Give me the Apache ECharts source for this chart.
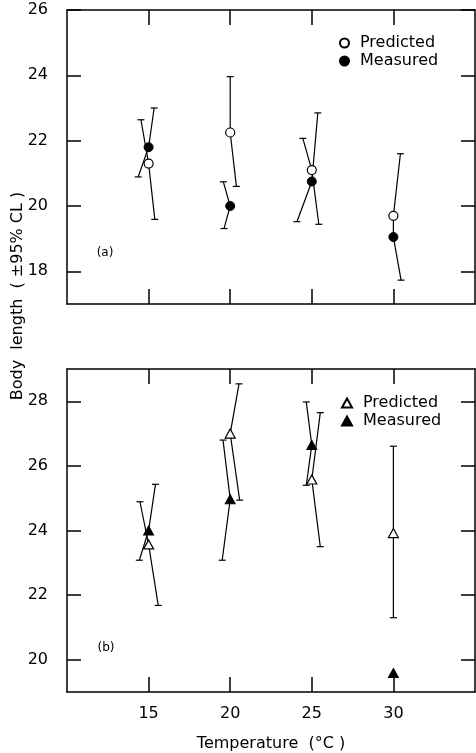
<!DOCTYPE html>
<html>
<head>
<meta charset="UTF-8">
<title>Body length vs temperature</title>
<script src="https://cdn.jsdelivr.net/npm/echarts@6/dist/echarts.min.js"></script>
<style>
html, body { margin: 0; padding: 0; background: #fff; }
#chart { width: 476px; height: 753px; }
</style>
</head>
<body>
<div id="chart"></div>
<script>
// temperatures (°C)
const temps = [15, 20, 25, 30];
const xTicks = [15, 20, 25, 30];
const yTicksA = [18, 20, 22, 24, 26];
const yTicksB = [20, 22, 24, 26, 28];

// panel (a): circles
const predA = [21.3, 22.25, 21.1, 19.7];
const measA = [21.8, 20.0, 20.75, 19.05];
// error bar ends: [temperature of cap, value]
const predAUp = [[14.53, 22.64], [20.0, 23.96], [24.45, 22.07], [30.43, 21.6]];
const predALo = [[15.38, 19.59], [20.38, 20.6], [25.43, 19.44], [30.0, 19.05]];
const measAUp = [[15.34, 23.0], [19.58, 20.74], [25.37, 22.85], null];
const measALo = [[14.36, 20.89], [19.62, 19.31], [24.09, 19.52], [30.47, 17.73]];

// panel (b): triangles
const predB = [23.57, 27.0, 25.58, 23.92];
const measB = [24.0, 24.97, 26.65, 19.59];
const predBUp = [[14.47, 24.89], [20.54, 28.54], [25.52, 27.65], [30.0, 26.61]];
const predBLo = [[15.59, 21.68], [20.58, 24.94], [25.52, 23.5], [30.0, 21.3]];
const measBUp = [[15.42, 25.43], [19.56, 26.8], [24.66, 27.98], null];
const measBLo = [[14.43, 23.08], [19.51, 23.08], [24.66, 25.4], null];

const FONT = 'DejaVu Sans';
const chart = echarts.init(document.getElementById('chart'));

function errBars(up, lo) {
  return function (params, api) {
    const i = params.dataIndex;
    const p = api.coord([api.value(0), api.value(1)]);
    const pts = [];
    const kids = [];
    const cap = function (c) {
      kids.push({ type: 'line', shape: { x1: c[0] - 3.5, y1: c[1], x2: c[0] + 3.5, y2: c[1] },
        style: { stroke: '#000', lineWidth: 1.2 } });
    };
    if (up[i]) { const u = api.coord(up[i]); pts.push(u); cap(u); }
    pts.push(p);
    if (lo[i]) { const l = api.coord(lo[i]); pts.push(l); cap(l); }
    kids.unshift({ type: 'polyline', shape: { points: pts }, style: { stroke: '#000', lineWidth: 1.2, fill: null } });
    return { type: 'group', children: kids };
  };
}

function xAx(grid, pos, labels) {
  return {
    type: 'value', gridIndex: grid, position: pos, min: 10, max: 35,
    axisLine: { show: true, onZero: false, lineStyle: { color: '#000', width: 1.5 } },
    axisTick: { show: true, inside: true, length: 15, customValues: xTicks, lineStyle: { color: '#000', width: 1.5 } },
    axisLabel: { show: labels, customValues: xTicks, margin: 14, fontSize: 16, color: '#000', fontFamily: FONT },
    splitLine: { show: false }
  };
}
function yAx(grid, pos, min, max, ticks, labels) {
  return {
    type: 'value', gridIndex: grid, position: pos, min: min, max: max,
    axisLine: { show: true, onZero: false, lineStyle: { color: '#000', width: 1.5 } },
    axisTick: { show: true, inside: true, length: 14, customValues: ticks, lineStyle: { color: '#000', width: 1.5 } },
    axisLabel: { show: labels, customValues: ticks, margin: 19, fontSize: 16, color: '#000', fontFamily: FONT },
    splitLine: { show: false }
  };
}

const openStyle = { color: '#fff', borderColor: '#000', borderWidth: 1.2, opacity: 1 };
const fillStyle = { color: '#000', borderColor: '#000', borderWidth: 1, opacity: 1 };
const pairs = arr => temps.map((t, i) => [t, arr[i]]);

const xA = xAx(0, 'bottom', false);
const xB = xAx(1, 'bottom', true);
xB.name = 'Temperature  (°C )';
xB.nameLocation = 'middle';
xB.nameGap = 44;
xB.nameTextStyle = { fontSize: 16, color: '#000', fontFamily: FONT };

const option = {
  animation: false,
  backgroundColor: '#fff',
  grid: [
    { left: 67, right: 1, top: 10, height: 294 },
    { left: 67, right: 1, top: 369, height: 327 }
  ],
  xAxis: [xA, xAx(0, 'top', false), xB, xAx(1, 'top', false)],
  yAxis: [
    yAx(0, 'left', 17, 26, yTicksA, true), yAx(0, 'right', 17, 26, yTicksA, false),
    yAx(1, 'left', 19, 29, yTicksB, true), yAx(1, 'right', 19, 29, yTicksB, false)
  ],
  legend: [
    { orient: 'vertical', left: 334, top: 30, itemWidth: 9, itemHeight: 9, itemGap: 2,
      selectedMode: false,
      textStyle: { fontSize: 16, color: '#000', fontFamily: FONT, padding: [0, 0, 0, 6] },
      data: [{ name: 'Predicted', icon: 'circle' }, { name: 'Measured', icon: 'circle' }] },
    { orient: 'vertical', left: 336, top: 390, itemWidth: 10, itemHeight: 9, itemGap: 2,
      selectedMode: false,
      textStyle: { fontSize: 16, color: '#000', fontFamily: FONT, padding: [0, 0, 0, 6] },
      data: [{ name: 'Predicted', icon: 'triangle' }, { name: 'Measured', icon: 'triangle' }] }
  ],
  graphic: [
    { type: 'text', x: 18, y: 296, rotation: Math.PI / 2,
      style: { text: 'Body  length  ( ±95% CL )', font: '16px "DejaVu Sans"', fill: '#000',
        align: 'center', verticalAlign: 'middle' } },
    { type: 'text', x: 105, y: 253,
      style: { text: '(a)', font: '12px "DejaVu Sans"', fill: '#000', align: 'center', verticalAlign: 'middle' } },
    { type: 'text', x: 106, y: 648,
      style: { text: '(b)', font: '12px "DejaVu Sans"', fill: '#000', align: 'center', verticalAlign: 'middle' } }
  ],
  series: [
    { type: 'custom', xAxisIndex: 0, yAxisIndex: 0, z: 2, renderItem: errBars(predAUp, predALo), data: pairs(predA) },
    { type: 'custom', xAxisIndex: 0, yAxisIndex: 0, z: 2, renderItem: errBars(measAUp, measALo), data: pairs(measA) },
    { type: 'custom', xAxisIndex: 2, yAxisIndex: 2, z: 2, renderItem: errBars(predBUp, predBLo), data: pairs(predB) },
    { type: 'custom', xAxisIndex: 2, yAxisIndex: 2, z: 2, renderItem: errBars(measBUp, measBLo), data: pairs(measB) },
    { name: 'Predicted', type: 'scatter', xAxisIndex: 0, yAxisIndex: 0, z: 3, symbol: 'circle', symbolSize: 9,
      itemStyle: openStyle, data: pairs(predA) },
    { name: 'Measured', type: 'scatter', xAxisIndex: 0, yAxisIndex: 0, z: 4, symbol: 'circle', symbolSize: 9,
      itemStyle: fillStyle, data: pairs(measA) },
    { name: 'Predicted', type: 'scatter', xAxisIndex: 2, yAxisIndex: 2, z: 3, symbol: 'triangle', symbolSize: [10, 9],
      itemStyle: openStyle, data: pairs(predB) },
    { name: 'Measured', type: 'scatter', xAxisIndex: 2, yAxisIndex: 2, z: 4, symbol: 'triangle', symbolSize: [10, 9],
      itemStyle: fillStyle, data: pairs(measB) }
  ]
};
chart.setOption(option);
</script>
</body>
</html>
